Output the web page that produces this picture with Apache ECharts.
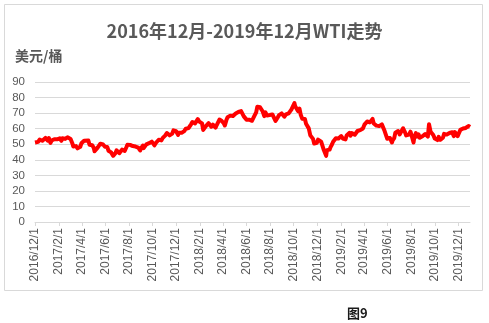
<!DOCTYPE html>
<html>
<head>
<meta charset="utf-8">
<script src="https://cdn.jsdelivr.net/npm/echarts@6/dist/echarts.min.js"></script>
<style>
html,body{margin:0;padding:0;background:#fff;}
#c{width:489px;height:323px;}
</style>
</head>
<body>
<div id="c"></div>
<script>
const titleText = '2016年12月-2019年12月WTI走势';
const unitText = '美元/桶';
const figText = '图9';
const startDate = [2016, 12, 1];
const endDate = [2019, 12, 31];
const yTicks = [0, 10, 20, 30, 40, 50, 60, 70, 80, 90];

const priceDates = [
'2016/12/1','2016/12/2','2016/12/6','2016/12/9','2016/12/13','2016/12/16','2016/12/20','2016/12/23','2016/12/28','2016/12/30',
'2017/1/3','2017/1/6','2017/1/10','2017/1/13','2017/1/17','2017/1/20','2017/1/24','2017/1/27','2017/1/31',
'2017/2/3','2017/2/7','2017/2/10','2017/2/14','2017/2/17','2017/2/23','2017/2/28',
'2017/3/3','2017/3/8','2017/3/10','2017/3/14','2017/3/17','2017/3/21','2017/3/24','2017/3/28','2017/3/31',
'2017/4/4','2017/4/7','2017/4/12','2017/4/18','2017/4/21','2017/4/25','2017/4/28',
'2017/5/2','2017/5/4','2017/5/9','2017/5/12','2017/5/16','2017/5/19','2017/5/24','2017/5/26','2017/5/31',
'2017/6/2','2017/6/6','2017/6/9','2017/6/13','2017/6/16','2017/6/21','2017/6/23','2017/6/27','2017/6/30',
'2017/7/3','2017/7/7','2017/7/11','2017/7/14','2017/7/18','2017/7/21','2017/7/25','2017/7/28',
'2017/8/1','2017/8/4','2017/8/9','2017/8/11','2017/8/15','2017/8/18','2017/8/22','2017/8/25','2017/8/30',
'2017/9/1','2017/9/6','2017/9/8','2017/9/12','2017/9/15','2017/9/19','2017/9/22','2017/9/26','2017/9/29',
'2017/10/3','2017/10/6','2017/10/10','2017/10/13','2017/10/17','2017/10/20','2017/10/24','2017/10/27','2017/10/31',
'2017/11/3','2017/11/7','2017/11/10','2017/11/14','2017/11/17','2017/11/21','2017/11/24','2017/11/28',
'2017/12/1','2017/12/6','2017/12/8','2017/12/12','2017/12/15','2017/12/19','2017/12/22','2017/12/26','2017/12/29',
'2018/1/2','2018/1/5','2018/1/9','2018/1/12','2018/1/16','2018/1/19','2018/1/23','2018/1/26','2018/1/30',
'2018/2/2','2018/2/6','2018/2/9','2018/2/13','2018/2/16','2018/2/20','2018/2/23','2018/2/27',
'2018/3/2','2018/3/6','2018/3/9','2018/3/13','2018/3/16','2018/3/20','2018/3/23','2018/3/27','2018/3/29',
'2018/4/3','2018/4/6','2018/4/10','2018/4/13','2018/4/18','2018/4/20','2018/4/24','2018/4/27',
'2018/5/1','2018/5/4','2018/5/8','2018/5/11','2018/5/15','2018/5/18','2018/5/22','2018/5/25','2018/5/29',
'2018/6/1','2018/6/5','2018/6/8','2018/6/12','2018/6/15','2018/6/19','2018/6/22','2018/6/26','2018/6/29',
'2018/7/3','2018/7/6','2018/7/10','2018/7/13','2018/7/17','2018/7/20','2018/7/24','2018/7/27','2018/7/31',
'2018/8/3','2018/8/7','2018/8/10','2018/8/15','2018/8/17','2018/8/21','2018/8/24','2018/8/28','2018/8/31',
'2018/9/4','2018/9/7','2018/9/11','2018/9/14','2018/9/18','2018/9/21','2018/9/25','2018/9/28',
'2018/10/3','2018/10/5','2018/10/9','2018/10/12','2018/10/16','2018/10/19','2018/10/23','2018/10/26','2018/10/30',
'2018/11/2','2018/11/6','2018/11/9','2018/11/13','2018/11/16','2018/11/20','2018/11/23','2018/11/27','2018/11/30',
'2018/12/3','2018/12/7','2018/12/11','2018/12/14','2018/12/18','2018/12/21','2018/12/24','2018/12/26','2018/12/28',
'2019/1/2','2019/1/4','2019/1/8','2019/1/11','2019/1/15','2019/1/18','2019/1/22','2019/1/25','2019/1/29',
'2019/2/1','2019/2/5','2019/2/8','2019/2/12','2019/2/15','2019/2/19','2019/2/22','2019/2/25','2019/2/28',
'2019/3/5','2019/3/8','2019/3/12','2019/3/15','2019/3/19','2019/3/22','2019/3/26','2019/3/29',
'2019/4/2','2019/4/5','2019/4/9','2019/4/12','2019/4/16','2019/4/18','2019/4/23','2019/4/26','2019/4/30',
'2019/5/3','2019/5/7','2019/5/10','2019/5/14','2019/5/17','2019/5/21','2019/5/24','2019/5/28','2019/5/31',
'2019/6/4','2019/6/7','2019/6/12','2019/6/14','2019/6/18','2019/6/21','2019/6/25','2019/6/28',
'2019/7/2','2019/7/5','2019/7/11','2019/7/16','2019/7/19','2019/7/23','2019/7/26','2019/7/30',
'2019/8/2','2019/8/7','2019/8/9','2019/8/13','2019/8/16','2019/8/20','2019/8/23','2019/8/27','2019/8/30',
'2019/9/3','2019/9/6','2019/9/10','2019/9/13','2019/9/16','2019/9/20','2019/9/24','2019/9/27',
'2019/10/1','2019/10/3','2019/10/8','2019/10/11','2019/10/15','2019/10/18','2019/10/22','2019/10/25','2019/10/29',
'2019/11/1','2019/11/5','2019/11/8','2019/11/12','2019/11/15','2019/11/19','2019/11/22','2019/11/26','2019/11/29',
'2019/12/3','2019/12/6','2019/12/10','2019/12/13','2019/12/17','2019/12/20','2019/12/24','2019/12/27','2019/12/31'
];

const prices = [
51.06,51.68,50.93,51.50,52.98,51.90,52.23,53.02,54.06,53.72,
52.33,53.99,50.82,52.37,52.48,53.22,53.18,53.17,52.81,
53.83,52.17,53.86,53.20,53.40,54.45,54.01,
53.33,50.28,48.49,47.72,48.78,47.34,47.97,48.37,50.60,
51.03,52.24,53.11,52.41,49.62,49.56,49.33,
47.66,45.52,45.88,47.84,48.66,50.33,51.36,49.80,48.32,
47.66,48.19,45.83,46.46,44.74,42.53,43.01,44.24,46.04,
47.07,44.23,45.04,46.54,46.40,45.77,47.89,49.71,
49.16,49.58,49.56,48.82,47.55,48.51,47.64,47.87,45.96,
47.29,49.16,47.48,48.23,49.89,49.48,50.66,51.88,51.67,
50.42,49.29,50.92,51.45,52.88,51.84,52.47,53.90,54.38,
55.64,57.20,56.74,55.70,56.55,56.83,58.95,57.99,
58.36,55.96,57.36,57.14,57.30,57.46,58.47,59.97,60.42,
60.37,61.44,62.96,64.30,63.73,63.37,64.47,66.14,64.50,
65.45,63.39,59.20,59.19,61.68,62.46,63.55,63.01,
61.25,62.60,62.04,60.71,62.34,63.54,65.88,65.25,64.94,
63.51,62.06,65.51,67.39,68.47,68.38,67.70,68.10,
67.25,69.72,69.06,70.70,71.31,71.28,72.20,67.88,66.73,
65.81,65.52,65.74,66.36,65.06,65.07,68.58,70.53,74.15,
74.14,73.80,74.11,71.01,68.08,70.46,68.52,68.69,68.76,
68.49,69.17,67.63,65.01,65.91,67.35,68.72,68.53,69.80,
69.87,67.75,69.25,68.99,69.85,70.78,72.28,73.25,
76.41,74.34,74.96,71.34,72.92,69.12,66.43,67.59,66.18,
63.14,62.21,60.19,55.69,56.46,53.43,50.42,51.56,50.93,
52.95,52.61,51.65,51.20,46.24,45.59,42.53,46.22,45.33,
46.54,47.96,49.78,51.59,52.11,53.80,52.57,53.69,53.31,
55.26,53.66,52.72,53.10,55.59,56.09,57.26,55.48,57.22,
56.56,56.07,56.87,58.52,59.03,59.04,59.94,60.14,
62.58,63.08,64.61,63.89,64.05,64.00,66.30,63.30,63.91,
61.94,61.40,61.66,61.78,62.76,62.99,58.63,59.14,53.50,
53.48,54.00,51.14,52.51,53.90,57.43,57.83,58.47,
56.25,57.51,60.20,57.62,55.63,56.77,56.20,58.05,
55.66,51.09,54.50,57.10,54.87,56.34,54.17,54.93,55.10,
53.94,56.52,57.40,54.85,62.90,58.09,57.29,55.91,
53.62,52.45,52.63,54.70,52.81,53.78,54.16,56.66,55.54,
56.20,57.23,57.24,56.80,57.72,55.21,57.77,58.41,55.17,
56.10,59.20,59.24,60.07,60.94,60.44,61.11,61.72,61.06
];

// calendar-day categories
const categories = [];
{
  const d = new Date(Date.UTC(startDate[0], startDate[1]-1, startDate[2]));
  const e = new Date(Date.UTC(endDate[0], endDate[1]-1, endDate[2]));
  while (d <= e) {
    categories.push(d.getUTCFullYear() + '/' + (d.getUTCMonth()+1) + '/' + d.getUTCDate());
    d.setUTCDate(d.getUTCDate()+1);
  }
}
const isMark = (idx, val) => {
  const p = val.split('/');
  return p[2] === '1' && (+p[1]) % 2 === 0;
};
const seriesData = priceDates.map((d, i) => [d, prices[i]]);

const chart = echarts.init(document.getElementById('c'), null, {renderer:'canvas'});
chart.setOption({
  animation: false,
  backgroundColor: '#fff',
  title: {
    text: titleText,
    left: 'center',
    top: 17,
    textStyle: {fontFamily: '"Noto Sans CJK SC", sans-serif', fontSize: 18, fontWeight: 'bold', color: '#595959'}
  },
  graphic: [
    {type: 'rect', shape: {x: 4.5, y: 4.5, width: 478, height: 286}, style: {fill: 'none', stroke: '#d9d9d9', lineWidth: 1}, z: -1},
    {type: 'text', x: 15, y: 56, style: {text: unitText, font: 'bold 14px "Noto Sans CJK SC"', fill: '#595959', textVerticalAlign: 'middle'}},
    {type: 'text', x: 347, y: 313, style: {text: figText, font: 'bold 13px "Noto Sans CJK SC"', fill: '#1a1a1a', textVerticalAlign: 'middle'}}
  ],
  grid: {left: 35, right: 19, top: 82, bottom: 101, containLabel: false},
  xAxis: {
    type: 'category',
    data: categories,
    boundaryGap: false,
    axisLine: {lineStyle: {color: '#d9d9d9', width: 1}},
    axisTick: {show: true, interval: isMark, length: 4, lineStyle: {color: '#d9d9d9'}},
    axisLabel: {
      interval: isMark,
      rotate: 90,
      margin: 6,
      color: '#595959',
      fontFamily: '"Liberation Sans", Arial, sans-serif',
      fontSize: 12
    },
    splitLine: {show: false}
  },
  yAxis: {
    type: 'value',
    min: yTicks[0],
    max: yTicks[yTicks.length-1],
    interval: 10,
    axisLine: {show: false},
    axisTick: {show: false},
    axisLabel: {color: '#595959', fontFamily: '"Liberation Sans", Arial, sans-serif', fontSize: 11.5, margin: 10},
    splitLine: {lineStyle: {color: '#d9d9d9', width: 1}}
  },
  series: [{
    type: 'line',
    data: seriesData,
    showSymbol: false,
    symbol: 'none',
    lineStyle: {color: '#ff0000', width: 4, join: 'round'},
    itemStyle: {color: '#ff0000'}
  }]
});
</script>
</body>
</html>
